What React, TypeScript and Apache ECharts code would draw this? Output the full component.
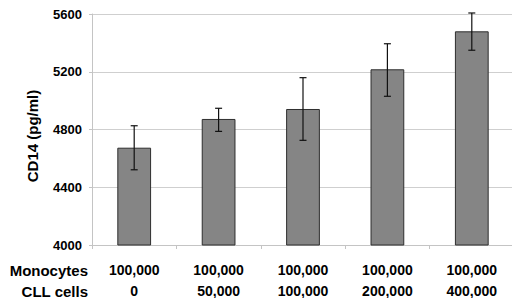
import React, { useEffect, useRef } from "react";
import * as echarts from "echarts";

const monocytes = ["100,000", "100,000", "100,000", "100,000", "100,000"];
const cllCells = ["0", "50,000", "100,000", "200,000", "400,000"];
const means = [4674, 4873, 4942, 5217, 5480];
const errLow = [4521, 4787, 4725, 5030, 5349];
const errHigh = [4826, 4947, 5159, 5394, 5607];
const yTicks = { min: 4000, max: 5600, interval: 400 };
const rowHeaders = ["Monocytes", "CLL cells"];
const yTitle = "CD14 (pg/ml)";

const FONT = "'Liberation Sans', Arial, sans-serif";

export default function App() {
  const ref = useRef<HTMLDivElement>(null);
  useEffect(() => {
    if (!ref.current) return;
    const chart = echarts.init(ref.current, undefined, { renderer: "svg" });
    const categories = monocytes.map((m, i) => `${m}\n${cllCells[i]}`);
    chart.setOption({
      animation: false,
      backgroundColor: "#ffffff",
      grid: { left: 92, right: 6, top: 14, bottom: 61 },
      xAxis: {
        type: "category",
        data: categories,
        axisLine: { lineStyle: { color: "#c4c4c4", width: 1 } },
        axisTick: { show: true, length: 4, lineStyle: { color: "#c4c4c4" } },
        axisLabel: {
          margin: 14,
          color: "#000",
          fontFamily: FONT,
          fontWeight: "bold",
          fontSize: 14,
          lineHeight: 21,
          interval: 0,
        },
      },
      yAxis: {
        type: "value",
        min: yTicks.min,
        max: yTicks.max,
        interval: yTicks.interval,
        axisLine: { show: true, lineStyle: { color: "#c4c4c4", width: 1 } },
        axisTick: { show: true, length: 3, lineStyle: { color: "#c4c4c4" } },
        splitLine: { lineStyle: { color: "#cfcfcf", width: 1 } },
        axisLabel: {
          margin: 10,
          color: "#000",
          fontFamily: FONT,
          fontWeight: "bold",
          fontSize: 13,
          formatter: (v: number) => String(v),
        },
      },
      graphic: [
        {
          type: "text",
          x: 32,
          y: 136,
          rotation: Math.PI / 2,
          style: {
            text: yTitle,
            fill: "#000",
            font: `bold 15px ${FONT}`,
            textAlign: "center",
            textVerticalAlign: "middle",
          },
        },
        {
          type: "text",
          x: 88,
          y: 270,
          style: {
            text: rowHeaders[0],
            fill: "#000",
            font: `bold 15px ${FONT}`,
            textAlign: "right",
            textVerticalAlign: "middle",
          },
        },
        {
          type: "text",
          x: 88,
          y: 291,
          style: {
            text: rowHeaders[1],
            fill: "#000",
            font: `bold 15px ${FONT}`,
            textAlign: "right",
            textVerticalAlign: "middle",
          },
        },
      ],
      series: [
        {
          type: "bar",
          data: means,
          barWidth: "40%",
          itemStyle: { color: "#858585", borderColor: "#2e2e2e", borderWidth: 1 },
        },
        {
          type: "custom",
          data: errLow.map((lo, i) => [i, lo, errHigh[i]]),
          z: 10,
          renderItem: (params: any, api: any) => {
            const x = api.value(0);
            const lo = api.coord([x, api.value(1)]);
            const hi = api.coord([x, api.value(2)]);
            const cap = 3.5;
            const style = { stroke: "#111", lineWidth: 1.2 };
            return {
              type: "group",
              children: [
                { type: "line", shape: { x1: lo[0], y1: lo[1], x2: hi[0], y2: hi[1] }, style },
                { type: "line", shape: { x1: hi[0] - cap, y1: hi[1], x2: hi[0] + cap, y2: hi[1] }, style },
                { type: "line", shape: { x1: lo[0] - cap, y1: lo[1], x2: lo[0] + cap, y2: lo[1] }, style },
              ],
            };
          },
        },
      ],
    });
    return () => chart.dispose();
  }, []);
  return <div ref={ref} style={{ width: 520, height: 306, margin: -8 }} />;
}
